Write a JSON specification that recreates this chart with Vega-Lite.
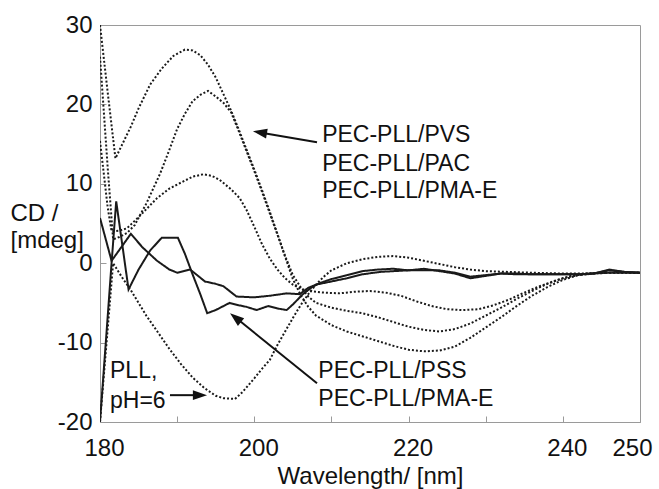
{
  "$schema": "https://vega.github.io/schema/vega-lite/v6.json",
  "width": 540,
  "height": 397,
  "autosize": {"type": "none"},
  "padding": {"left": 100, "top": 25, "right": 19, "bottom": 67},
  "background": "white",
  "config": {
    "font": "Liberation Sans",
    "view": {"stroke": "#9a9a9a", "strokeWidth": 1},
    "axis": {"domainColor": "#9a9a9a", "tickColor": "#9a9a9a", "grid": false, "labelColor": "#111", "titleColor": "#111", "labelFont": "Liberation Sans", "titleFont": "Liberation Sans", "labelFontWeight": "normal", "titleFontWeight": "normal"}
  },
  "datasets": {
    "curves": [
      {"series": "PEC-PLL/PVS", "wl": 180, "cd": 30},
      {"series": "PEC-PLL/PVS", "wl": 181, "cd": 21.5},
      {"series": "PEC-PLL/PVS", "wl": 182, "cd": 13.2},
      {"series": "PEC-PLL/PVS", "wl": 183, "cd": 15.2},
      {"series": "PEC-PLL/PVS", "wl": 184, "cd": 17.2},
      {"series": "PEC-PLL/PVS", "wl": 185, "cd": 19.5},
      {"series": "PEC-PLL/PVS", "wl": 186.5, "cd": 22.5},
      {"series": "PEC-PLL/PVS", "wl": 188, "cd": 24.5},
      {"series": "PEC-PLL/PVS", "wl": 189.5, "cd": 26.1},
      {"series": "PEC-PLL/PVS", "wl": 191, "cd": 26.9},
      {"series": "PEC-PLL/PVS", "wl": 192, "cd": 26.8},
      {"series": "PEC-PLL/PVS", "wl": 193, "cd": 26.2},
      {"series": "PEC-PLL/PVS", "wl": 194, "cd": 25},
      {"series": "PEC-PLL/PVS", "wl": 195, "cd": 23.4},
      {"series": "PEC-PLL/PVS", "wl": 196, "cd": 21.3},
      {"series": "PEC-PLL/PVS", "wl": 197, "cd": 19.2},
      {"series": "PEC-PLL/PVS", "wl": 198, "cd": 16.8},
      {"series": "PEC-PLL/PVS", "wl": 199, "cd": 14.3},
      {"series": "PEC-PLL/PVS", "wl": 200, "cd": 11.8},
      {"series": "PEC-PLL/PVS", "wl": 201, "cd": 9.2},
      {"series": "PEC-PLL/PVS", "wl": 202, "cd": 6.5},
      {"series": "PEC-PLL/PVS", "wl": 203, "cd": 3.7},
      {"series": "PEC-PLL/PVS", "wl": 204, "cd": 0.8},
      {"series": "PEC-PLL/PVS", "wl": 205, "cd": -2},
      {"series": "PEC-PLL/PVS", "wl": 206, "cd": -4},
      {"series": "PEC-PLL/PVS", "wl": 207, "cd": -5.5},
      {"series": "PEC-PLL/PVS", "wl": 208, "cd": -6.6},
      {"series": "PEC-PLL/PVS", "wl": 210, "cd": -7.8},
      {"series": "PEC-PLL/PVS", "wl": 212, "cd": -8.6},
      {"series": "PEC-PLL/PVS", "wl": 214, "cd": -9.2},
      {"series": "PEC-PLL/PVS", "wl": 216, "cd": -9.8},
      {"series": "PEC-PLL/PVS", "wl": 218, "cd": -10.4},
      {"series": "PEC-PLL/PVS", "wl": 220, "cd": -10.9},
      {"series": "PEC-PLL/PVS", "wl": 222, "cd": -11.1},
      {"series": "PEC-PLL/PVS", "wl": 224, "cd": -11},
      {"series": "PEC-PLL/PVS", "wl": 226, "cd": -10.5},
      {"series": "PEC-PLL/PVS", "wl": 228, "cd": -9.4},
      {"series": "PEC-PLL/PVS", "wl": 230, "cd": -8.1},
      {"series": "PEC-PLL/PVS", "wl": 232, "cd": -6.8},
      {"series": "PEC-PLL/PVS", "wl": 234, "cd": -5.4},
      {"series": "PEC-PLL/PVS", "wl": 236, "cd": -4.1},
      {"series": "PEC-PLL/PVS", "wl": 238, "cd": -3},
      {"series": "PEC-PLL/PVS", "wl": 240, "cd": -2.1},
      {"series": "PEC-PLL/PVS", "wl": 242, "cd": -1.5},
      {"series": "PEC-PLL/PVS", "wl": 244, "cd": -1.3},
      {"series": "PEC-PLL/PVS", "wl": 246, "cd": -1.2},
      {"series": "PEC-PLL/PVS", "wl": 250, "cd": -1.2},

      {"series": "PEC-PLL/PAC", "wl": 180, "cd": 26},
      {"series": "PEC-PLL/PAC", "wl": 181, "cd": 12},
      {"series": "PEC-PLL/PAC", "wl": 181.7, "cd": 3},
      {"series": "PEC-PLL/PAC", "wl": 182.5, "cd": 3.3},
      {"series": "PEC-PLL/PAC", "wl": 183.5, "cd": 3.8},
      {"series": "PEC-PLL/PAC", "wl": 184.5, "cd": 4.8},
      {"series": "PEC-PLL/PAC", "wl": 186, "cd": 7.5},
      {"series": "PEC-PLL/PAC", "wl": 187.8, "cd": 11.3},
      {"series": "PEC-PLL/PAC", "wl": 189, "cd": 14.3},
      {"series": "PEC-PLL/PAC", "wl": 190, "cd": 16.9},
      {"series": "PEC-PLL/PAC", "wl": 191, "cd": 18.8},
      {"series": "PEC-PLL/PAC", "wl": 192, "cd": 20.4},
      {"series": "PEC-PLL/PAC", "wl": 193, "cd": 21.2},
      {"series": "PEC-PLL/PAC", "wl": 194, "cd": 21.7},
      {"series": "PEC-PLL/PAC", "wl": 195, "cd": 21},
      {"series": "PEC-PLL/PAC", "wl": 196, "cd": 20.2},
      {"series": "PEC-PLL/PAC", "wl": 197, "cd": 19},
      {"series": "PEC-PLL/PAC", "wl": 198, "cd": 16.6},
      {"series": "PEC-PLL/PAC", "wl": 199, "cd": 14.1},
      {"series": "PEC-PLL/PAC", "wl": 200, "cd": 11.6},
      {"series": "PEC-PLL/PAC", "wl": 201, "cd": 9},
      {"series": "PEC-PLL/PAC", "wl": 202, "cd": 6.3},
      {"series": "PEC-PLL/PAC", "wl": 203, "cd": 3.6},
      {"series": "PEC-PLL/PAC", "wl": 204, "cd": 0.9},
      {"series": "PEC-PLL/PAC", "wl": 205, "cd": -1.5},
      {"series": "PEC-PLL/PAC", "wl": 206, "cd": -3},
      {"series": "PEC-PLL/PAC", "wl": 207, "cd": -4.2},
      {"series": "PEC-PLL/PAC", "wl": 208, "cd": -5},
      {"series": "PEC-PLL/PAC", "wl": 210, "cd": -5.6},
      {"series": "PEC-PLL/PAC", "wl": 212, "cd": -6},
      {"series": "PEC-PLL/PAC", "wl": 214, "cd": -6.3},
      {"series": "PEC-PLL/PAC", "wl": 216, "cd": -6.8},
      {"series": "PEC-PLL/PAC", "wl": 218, "cd": -7.4},
      {"series": "PEC-PLL/PAC", "wl": 220, "cd": -8},
      {"series": "PEC-PLL/PAC", "wl": 222, "cd": -8.4},
      {"series": "PEC-PLL/PAC", "wl": 224, "cd": -8.6},
      {"series": "PEC-PLL/PAC", "wl": 226, "cd": -8.3},
      {"series": "PEC-PLL/PAC", "wl": 228, "cd": -7.6},
      {"series": "PEC-PLL/PAC", "wl": 230, "cd": -6.6},
      {"series": "PEC-PLL/PAC", "wl": 232, "cd": -5.6},
      {"series": "PEC-PLL/PAC", "wl": 234, "cd": -4.5},
      {"series": "PEC-PLL/PAC", "wl": 236, "cd": -3.5},
      {"series": "PEC-PLL/PAC", "wl": 238, "cd": -2.6},
      {"series": "PEC-PLL/PAC", "wl": 240, "cd": -1.9},
      {"series": "PEC-PLL/PAC", "wl": 242, "cd": -1.5},
      {"series": "PEC-PLL/PAC", "wl": 244, "cd": -1.3},
      {"series": "PEC-PLL/PAC", "wl": 246, "cd": -1.2},
      {"series": "PEC-PLL/PAC", "wl": 250, "cd": -1.2},

      {"series": "PEC-PLL/PMA-E (upper)", "wl": 180, "cd": 15.4},
      {"series": "PEC-PLL/PMA-E (upper)", "wl": 181, "cd": 7},
      {"series": "PEC-PLL/PMA-E (upper)", "wl": 181.5, "cd": 4},
      {"series": "PEC-PLL/PMA-E (upper)", "wl": 182.5, "cd": 4.1},
      {"series": "PEC-PLL/PMA-E (upper)", "wl": 183.5, "cd": 4.4},
      {"series": "PEC-PLL/PMA-E (upper)", "wl": 185, "cd": 5.8},
      {"series": "PEC-PLL/PMA-E (upper)", "wl": 187.4, "cd": 8.2},
      {"series": "PEC-PLL/PMA-E (upper)", "wl": 189, "cd": 9.4},
      {"series": "PEC-PLL/PMA-E (upper)", "wl": 190.4, "cd": 10.1},
      {"series": "PEC-PLL/PMA-E (upper)", "wl": 192, "cd": 10.9},
      {"series": "PEC-PLL/PMA-E (upper)", "wl": 193.4, "cd": 11.2},
      {"series": "PEC-PLL/PMA-E (upper)", "wl": 194.5, "cd": 11},
      {"series": "PEC-PLL/PMA-E (upper)", "wl": 195.5, "cd": 10.5},
      {"series": "PEC-PLL/PMA-E (upper)", "wl": 197, "cd": 9.3},
      {"series": "PEC-PLL/PMA-E (upper)", "wl": 198.1, "cd": 8.2},
      {"series": "PEC-PLL/PMA-E (upper)", "wl": 199, "cd": 6.7},
      {"series": "PEC-PLL/PMA-E (upper)", "wl": 200, "cd": 4.6},
      {"series": "PEC-PLL/PMA-E (upper)", "wl": 201, "cd": 2.4},
      {"series": "PEC-PLL/PMA-E (upper)", "wl": 202, "cd": 0.6},
      {"series": "PEC-PLL/PMA-E (upper)", "wl": 203, "cd": -0.8},
      {"series": "PEC-PLL/PMA-E (upper)", "wl": 204, "cd": -1.9},
      {"series": "PEC-PLL/PMA-E (upper)", "wl": 205, "cd": -2.7},
      {"series": "PEC-PLL/PMA-E (upper)", "wl": 206, "cd": -3.2},
      {"series": "PEC-PLL/PMA-E (upper)", "wl": 207, "cd": -3.5},
      {"series": "PEC-PLL/PMA-E (upper)", "wl": 209, "cd": -3.7},
      {"series": "PEC-PLL/PMA-E (upper)", "wl": 211, "cd": -3.8},
      {"series": "PEC-PLL/PMA-E (upper)", "wl": 213, "cd": -3.6},
      {"series": "PEC-PLL/PMA-E (upper)", "wl": 215, "cd": -3.5},
      {"series": "PEC-PLL/PMA-E (upper)", "wl": 217, "cd": -3.7},
      {"series": "PEC-PLL/PMA-E (upper)", "wl": 219, "cd": -4.1},
      {"series": "PEC-PLL/PMA-E (upper)", "wl": 221, "cd": -4.8},
      {"series": "PEC-PLL/PMA-E (upper)", "wl": 223, "cd": -5.4},
      {"series": "PEC-PLL/PMA-E (upper)", "wl": 225, "cd": -5.8},
      {"series": "PEC-PLL/PMA-E (upper)", "wl": 227, "cd": -5.9},
      {"series": "PEC-PLL/PMA-E (upper)", "wl": 229, "cd": -5.8},
      {"series": "PEC-PLL/PMA-E (upper)", "wl": 231, "cd": -5.3},
      {"series": "PEC-PLL/PMA-E (upper)", "wl": 233, "cd": -4.6},
      {"series": "PEC-PLL/PMA-E (upper)", "wl": 235, "cd": -3.7},
      {"series": "PEC-PLL/PMA-E (upper)", "wl": 237, "cd": -2.9},
      {"series": "PEC-PLL/PMA-E (upper)", "wl": 239, "cd": -2.2},
      {"series": "PEC-PLL/PMA-E (upper)", "wl": 241, "cd": -1.6},
      {"series": "PEC-PLL/PMA-E (upper)", "wl": 243, "cd": -1.3},
      {"series": "PEC-PLL/PMA-E (upper)", "wl": 246, "cd": -1.2},
      {"series": "PEC-PLL/PMA-E (upper)", "wl": 250, "cd": -1.2},

      {"series": "PLL, pH=6", "wl": 180, "cd": -20},
      {"series": "PLL, pH=6", "wl": 181.7, "cd": 0},
      {"series": "PLL, pH=6", "wl": 183, "cd": -2},
      {"series": "PLL, pH=6", "wl": 184, "cd": -3.4},
      {"series": "PLL, pH=6", "wl": 186, "cd": -6.6},
      {"series": "PLL, pH=6", "wl": 187.5, "cd": -8.7},
      {"series": "PLL, pH=6", "wl": 189, "cd": -10.8},
      {"series": "PLL, pH=6", "wl": 190.5, "cd": -12.7},
      {"series": "PLL, pH=6", "wl": 192, "cd": -14.4},
      {"series": "PLL, pH=6", "wl": 193.5, "cd": -15.7},
      {"series": "PLL, pH=6", "wl": 195, "cd": -16.7},
      {"series": "PLL, pH=6", "wl": 196, "cd": -17},
      {"series": "PLL, pH=6", "wl": 197.5, "cd": -17.1},
      {"series": "PLL, pH=6", "wl": 198.5, "cd": -16.2},
      {"series": "PLL, pH=6", "wl": 200, "cd": -14.5},
      {"series": "PLL, pH=6", "wl": 201, "cd": -13.3},
      {"series": "PLL, pH=6", "wl": 202, "cd": -12.2},
      {"series": "PLL, pH=6", "wl": 203, "cd": -10.3},
      {"series": "PLL, pH=6", "wl": 204, "cd": -8.6},
      {"series": "PLL, pH=6", "wl": 205, "cd": -6.9},
      {"series": "PLL, pH=6", "wl": 206, "cd": -5.3},
      {"series": "PLL, pH=6", "wl": 207, "cd": -3.9},
      {"series": "PLL, pH=6", "wl": 208, "cd": -2.7},
      {"series": "PLL, pH=6", "wl": 209, "cd": -1.7},
      {"series": "PLL, pH=6", "wl": 210, "cd": -0.9},
      {"series": "PLL, pH=6", "wl": 212, "cd": 0},
      {"series": "PLL, pH=6", "wl": 214, "cd": 0.5},
      {"series": "PLL, pH=6", "wl": 216, "cd": 0.8},
      {"series": "PLL, pH=6", "wl": 218, "cd": 0.9},
      {"series": "PLL, pH=6", "wl": 220, "cd": 0.7},
      {"series": "PLL, pH=6", "wl": 222, "cd": 0.3},
      {"series": "PLL, pH=6", "wl": 224, "cd": -0.1},
      {"series": "PLL, pH=6", "wl": 226, "cd": -0.5},
      {"series": "PLL, pH=6", "wl": 228, "cd": -0.8},
      {"series": "PLL, pH=6", "wl": 230, "cd": -1},
      {"series": "PLL, pH=6", "wl": 233, "cd": -1.1},
      {"series": "PLL, pH=6", "wl": 236, "cd": -1.2},
      {"series": "PLL, pH=6", "wl": 240, "cd": -1.3},
      {"series": "PLL, pH=6", "wl": 243, "cd": -1.3},
      {"series": "PLL, pH=6", "wl": 246, "cd": -1.2},
      {"series": "PLL, pH=6", "wl": 250, "cd": -1.2},

      {"series": "PEC-PLL/PSS", "wl": 180, "cd": -20},
      {"series": "PEC-PLL/PSS", "wl": 181.5, "cd": 0},
      {"series": "PEC-PLL/PSS", "wl": 182.1, "cd": 7.8},
      {"series": "PEC-PLL/PSS", "wl": 183.7, "cd": -3.3},
      {"series": "PEC-PLL/PSS", "wl": 185, "cd": -0.8},
      {"series": "PEC-PLL/PSS", "wl": 186.5, "cd": 1.6},
      {"series": "PEC-PLL/PSS", "wl": 188, "cd": 3.2},
      {"series": "PEC-PLL/PSS", "wl": 190.1, "cd": 3.2},
      {"series": "PEC-PLL/PSS", "wl": 191, "cd": 1.2},
      {"series": "PEC-PLL/PSS", "wl": 192, "cd": -1.4},
      {"series": "PEC-PLL/PSS", "wl": 193, "cd": -3.9},
      {"series": "PEC-PLL/PSS", "wl": 193.9, "cd": -6.3},
      {"series": "PEC-PLL/PSS", "wl": 195, "cd": -5.9},
      {"series": "PEC-PLL/PSS", "wl": 196.8, "cd": -5},
      {"series": "PEC-PLL/PSS", "wl": 198, "cd": -5.3},
      {"series": "PEC-PLL/PSS", "wl": 199, "cd": -5.5},
      {"series": "PEC-PLL/PSS", "wl": 200.3, "cd": -5.9},
      {"series": "PEC-PLL/PSS", "wl": 201.8, "cd": -5.4},
      {"series": "PEC-PLL/PSS", "wl": 203, "cd": -5.7},
      {"series": "PEC-PLL/PSS", "wl": 204.2, "cd": -5.9},
      {"series": "PEC-PLL/PSS", "wl": 205, "cd": -5.2},
      {"series": "PEC-PLL/PSS", "wl": 206.3, "cd": -3.9},
      {"series": "PEC-PLL/PSS", "wl": 207.5, "cd": -3},
      {"series": "PEC-PLL/PSS", "wl": 208.5, "cd": -2.5},
      {"series": "PEC-PLL/PSS", "wl": 210, "cd": -2},
      {"series": "PEC-PLL/PSS", "wl": 212, "cd": -1.5},
      {"series": "PEC-PLL/PSS", "wl": 214, "cd": -1},
      {"series": "PEC-PLL/PSS", "wl": 216, "cd": -0.8},
      {"series": "PEC-PLL/PSS", "wl": 218, "cd": -0.7},
      {"series": "PEC-PLL/PSS", "wl": 220, "cd": -0.9},
      {"series": "PEC-PLL/PSS", "wl": 222, "cd": -0.7},
      {"series": "PEC-PLL/PSS", "wl": 224, "cd": -1},
      {"series": "PEC-PLL/PSS", "wl": 226, "cd": -1.3},
      {"series": "PEC-PLL/PSS", "wl": 228, "cd": -1.9},
      {"series": "PEC-PLL/PSS", "wl": 230, "cd": -1.6},
      {"series": "PEC-PLL/PSS", "wl": 232, "cd": -1.3},
      {"series": "PEC-PLL/PSS", "wl": 234, "cd": -1.4},
      {"series": "PEC-PLL/PSS", "wl": 236, "cd": -1.4},
      {"series": "PEC-PLL/PSS", "wl": 238, "cd": -1.4},
      {"series": "PEC-PLL/PSS", "wl": 240, "cd": -1.4},
      {"series": "PEC-PLL/PSS", "wl": 242, "cd": -1.4},
      {"series": "PEC-PLL/PSS", "wl": 244, "cd": -1.3},
      {"series": "PEC-PLL/PSS", "wl": 246, "cd": -0.8},
      {"series": "PEC-PLL/PSS", "wl": 248, "cd": -1.1},
      {"series": "PEC-PLL/PSS", "wl": 250, "cd": -1.2},

      {"series": "PEC-PLL/PMA-E (lower)", "wl": 180, "cd": 5.7},
      {"series": "PEC-PLL/PMA-E (lower)", "wl": 181.5, "cd": 0.3},
      {"series": "PEC-PLL/PMA-E (lower)", "wl": 184, "cd": 3.7},
      {"series": "PEC-PLL/PMA-E (lower)", "wl": 185.5, "cd": 2},
      {"series": "PEC-PLL/PMA-E (lower)", "wl": 187.4, "cd": 0.3},
      {"series": "PEC-PLL/PMA-E (lower)", "wl": 189, "cd": -0.8},
      {"series": "PEC-PLL/PMA-E (lower)", "wl": 190, "cd": -1.2},
      {"series": "PEC-PLL/PMA-E (lower)", "wl": 191.7, "cd": -0.8},
      {"series": "PEC-PLL/PMA-E (lower)", "wl": 193.6, "cd": -2.3},
      {"series": "PEC-PLL/PMA-E (lower)", "wl": 195, "cd": -2.6},
      {"series": "PEC-PLL/PMA-E (lower)", "wl": 196, "cd": -2.9},
      {"series": "PEC-PLL/PMA-E (lower)", "wl": 197.7, "cd": -4.2},
      {"series": "PEC-PLL/PMA-E (lower)", "wl": 200, "cd": -4.3},
      {"series": "PEC-PLL/PMA-E (lower)", "wl": 202, "cd": -4.1},
      {"series": "PEC-PLL/PMA-E (lower)", "wl": 204.2, "cd": -3.8},
      {"series": "PEC-PLL/PMA-E (lower)", "wl": 205.9, "cd": -3.9},
      {"series": "PEC-PLL/PMA-E (lower)", "wl": 207, "cd": -3.1},
      {"series": "PEC-PLL/PMA-E (lower)", "wl": 208, "cd": -2.7},
      {"series": "PEC-PLL/PMA-E (lower)", "wl": 210, "cd": -2.3},
      {"series": "PEC-PLL/PMA-E (lower)", "wl": 212, "cd": -1.9},
      {"series": "PEC-PLL/PMA-E (lower)", "wl": 214, "cd": -1.4},
      {"series": "PEC-PLL/PMA-E (lower)", "wl": 216.3, "cd": -1.1},
      {"series": "PEC-PLL/PMA-E (lower)", "wl": 218, "cd": -1},
      {"series": "PEC-PLL/PMA-E (lower)", "wl": 220, "cd": -0.9},
      {"series": "PEC-PLL/PMA-E (lower)", "wl": 222, "cd": -0.9},
      {"series": "PEC-PLL/PMA-E (lower)", "wl": 224, "cd": -0.9},
      {"series": "PEC-PLL/PMA-E (lower)", "wl": 226, "cd": -1.2},
      {"series": "PEC-PLL/PMA-E (lower)", "wl": 228, "cd": -1.7},
      {"series": "PEC-PLL/PMA-E (lower)", "wl": 230, "cd": -1.5},
      {"series": "PEC-PLL/PMA-E (lower)", "wl": 232, "cd": -1.3},
      {"series": "PEC-PLL/PMA-E (lower)", "wl": 234, "cd": -1.3},
      {"series": "PEC-PLL/PMA-E (lower)", "wl": 236, "cd": -1.4},
      {"series": "PEC-PLL/PMA-E (lower)", "wl": 238, "cd": -1.4},
      {"series": "PEC-PLL/PMA-E (lower)", "wl": 240, "cd": -1.4},
      {"series": "PEC-PLL/PMA-E (lower)", "wl": 242, "cd": -1.4},
      {"series": "PEC-PLL/PMA-E (lower)", "wl": 244, "cd": -1.3},
      {"series": "PEC-PLL/PMA-E (lower)", "wl": 246, "cd": -0.9},
      {"series": "PEC-PLL/PMA-E (lower)", "wl": 248, "cd": -1.1},
      {"series": "PEC-PLL/PMA-E (lower)", "wl": 250, "cd": -1.2}
    ],
    "labels": [
      {"wl": 208.8, "cd": 16.1, "text": "PEC-PLL/PVS"},
      {"wl": 208.8, "cd": 12.5, "text": "PEC-PLL/PAC"},
      {"wl": 208.8, "cd": 9.1, "text": "PEC-PLL/PMA-E"},
      {"wl": 208.3, "cd": -13.6, "text": "PEC-PLL/PSS"},
      {"wl": 208.3, "cd": -17.1, "text": "PEC-PLL/PMA-E"},
      {"wl": 181.3, "cd": -13.6, "text": "PLL,"},
      {"wl": 181.3, "cd": -17.3, "text": "pH=6"}
    ],
    "arrows": [
      {"id": "upper", "wl": 208.13, "cd": 15.24, "wl2": 200.73, "cd2": 16.47},
      {"id": "lower", "wl": 208.13, "cd": -15.11, "wl2": 197.57, "cd2": -6.85},
      {"id": "pll", "wl": 189.07, "cd": -16.62, "wl2": 192.96, "cd2": -16.62}
    ]
  },
  "layer": [
    {
      "data": {"name": "curves"},
      "mark": {"type": "line", "strokeWidth": 2, "color": "#1a1a1a", "clip": true},
      "encoding": {
        "x": {
          "field": "wl", "type": "quantitative",
          "scale": {"domain": [180, 250], "nice": false, "zero": false},
          "axis": {
            "title": "Wavelength/ [nm]",
            "values": [180, 190, 200, 210, 220, 230, 240, 250],
            "labelExpr": "(datum.value == 190 || datum.value == 210 || datum.value == 230) ? '' : datum.label",
            "labelFontSize": 24,
            "titleFontSize": 24,
            "tickSize": -6,
            "labelPadding": 20,
            "titlePadding": 4,
            "labelOffset": {"condition": {"test": "datum.value == 250", "value": -8}, "value": 4},
            "labelFlush": false
          }
        },
        "y": {
          "field": "cd", "type": "quantitative",
          "scale": {"domain": [-20, 30], "nice": false, "zero": false},
          "axis": {
            "title": ["CD /", "[mdeg]"],
            "values": [-20, -10, 0, 10, 20, 30],
            "labelExpr": "'' + datum.value",
            "labelFontSize": 24,
            "titleFontSize": 24,
            "tickSize": -6,
            "labelPadding": 14,
            "titleAngle": 0,
            "titleAlign": "left",
            "titleBaseline": "alphabetic",
            "titleX": -90,
            "titleY": 195,
            "titleLineHeight": 27
          }
        },
        "detail": {"field": "series", "type": "nominal"},
        "strokeDash": {
          "field": "series", "type": "nominal",
          "scale": {
            "domain": ["PEC-PLL/PVS", "PEC-PLL/PAC", "PEC-PLL/PMA-E (upper)", "PLL, pH=6", "PEC-PLL/PSS", "PEC-PLL/PMA-E (lower)"],
            "range": [[2, 2], [2, 2], [2, 2], [2, 2], [1, 0], [1, 0]]
          },
          "legend": null
        },
        "order": {"field": "wl", "type": "quantitative"}
      }
    },
    {
      "data": {"name": "arrows"},
      "mark": {"type": "rule", "strokeWidth": 2, "color": "#111"},
      "encoding": {
        "x": {"field": "wl", "type": "quantitative"},
        "y": {"field": "cd", "type": "quantitative"},
        "x2": {"field": "wl2"},
        "y2": {"field": "cd2"}
      }
    },
    {
      "data": {"name": "arrows"},
      "transform": [{"filter": "datum.id == 'upper'"}],
      "mark": {"type": "point", "shape": "M-1,-0.7L1,0L-1,0.7Z", "filled": true, "size": 200, "angle": 190, "color": "#111", "opacity": 1},
      "encoding": {
        "x": {"field": "wl2", "type": "quantitative"},
        "y": {"field": "cd2", "type": "quantitative"}
      }
    },
    {
      "data": {"name": "arrows"},
      "transform": [{"filter": "datum.id == 'lower'"}],
      "mark": {"type": "point", "shape": "M-1,-0.7L1,0L-1,0.7Z", "filled": true, "size": 200, "angle": 219, "color": "#111", "opacity": 1},
      "encoding": {
        "x": {"field": "wl2", "type": "quantitative"},
        "y": {"field": "cd2", "type": "quantitative"}
      }
    },
    {
      "data": {"name": "arrows"},
      "transform": [{"filter": "datum.id == 'pll'"}],
      "mark": {"type": "point", "shape": "M-1,-0.7L1,0L-1,0.7Z", "filled": true, "size": 200, "angle": 0, "color": "#111", "opacity": 1},
      "encoding": {
        "x": {"field": "wl2", "type": "quantitative"},
        "y": {"field": "cd2", "type": "quantitative"}
      }
    },
    {
      "data": {"name": "labels"},
      "mark": {"type": "text", "align": "left", "baseline": "middle", "fontSize": 23, "font": "Liberation Sans", "color": "#111"},
      "encoding": {
        "x": {"field": "wl", "type": "quantitative"},
        "y": {"field": "cd", "type": "quantitative"},
        "text": {"field": "text"}
      }
    }
  ]
}
